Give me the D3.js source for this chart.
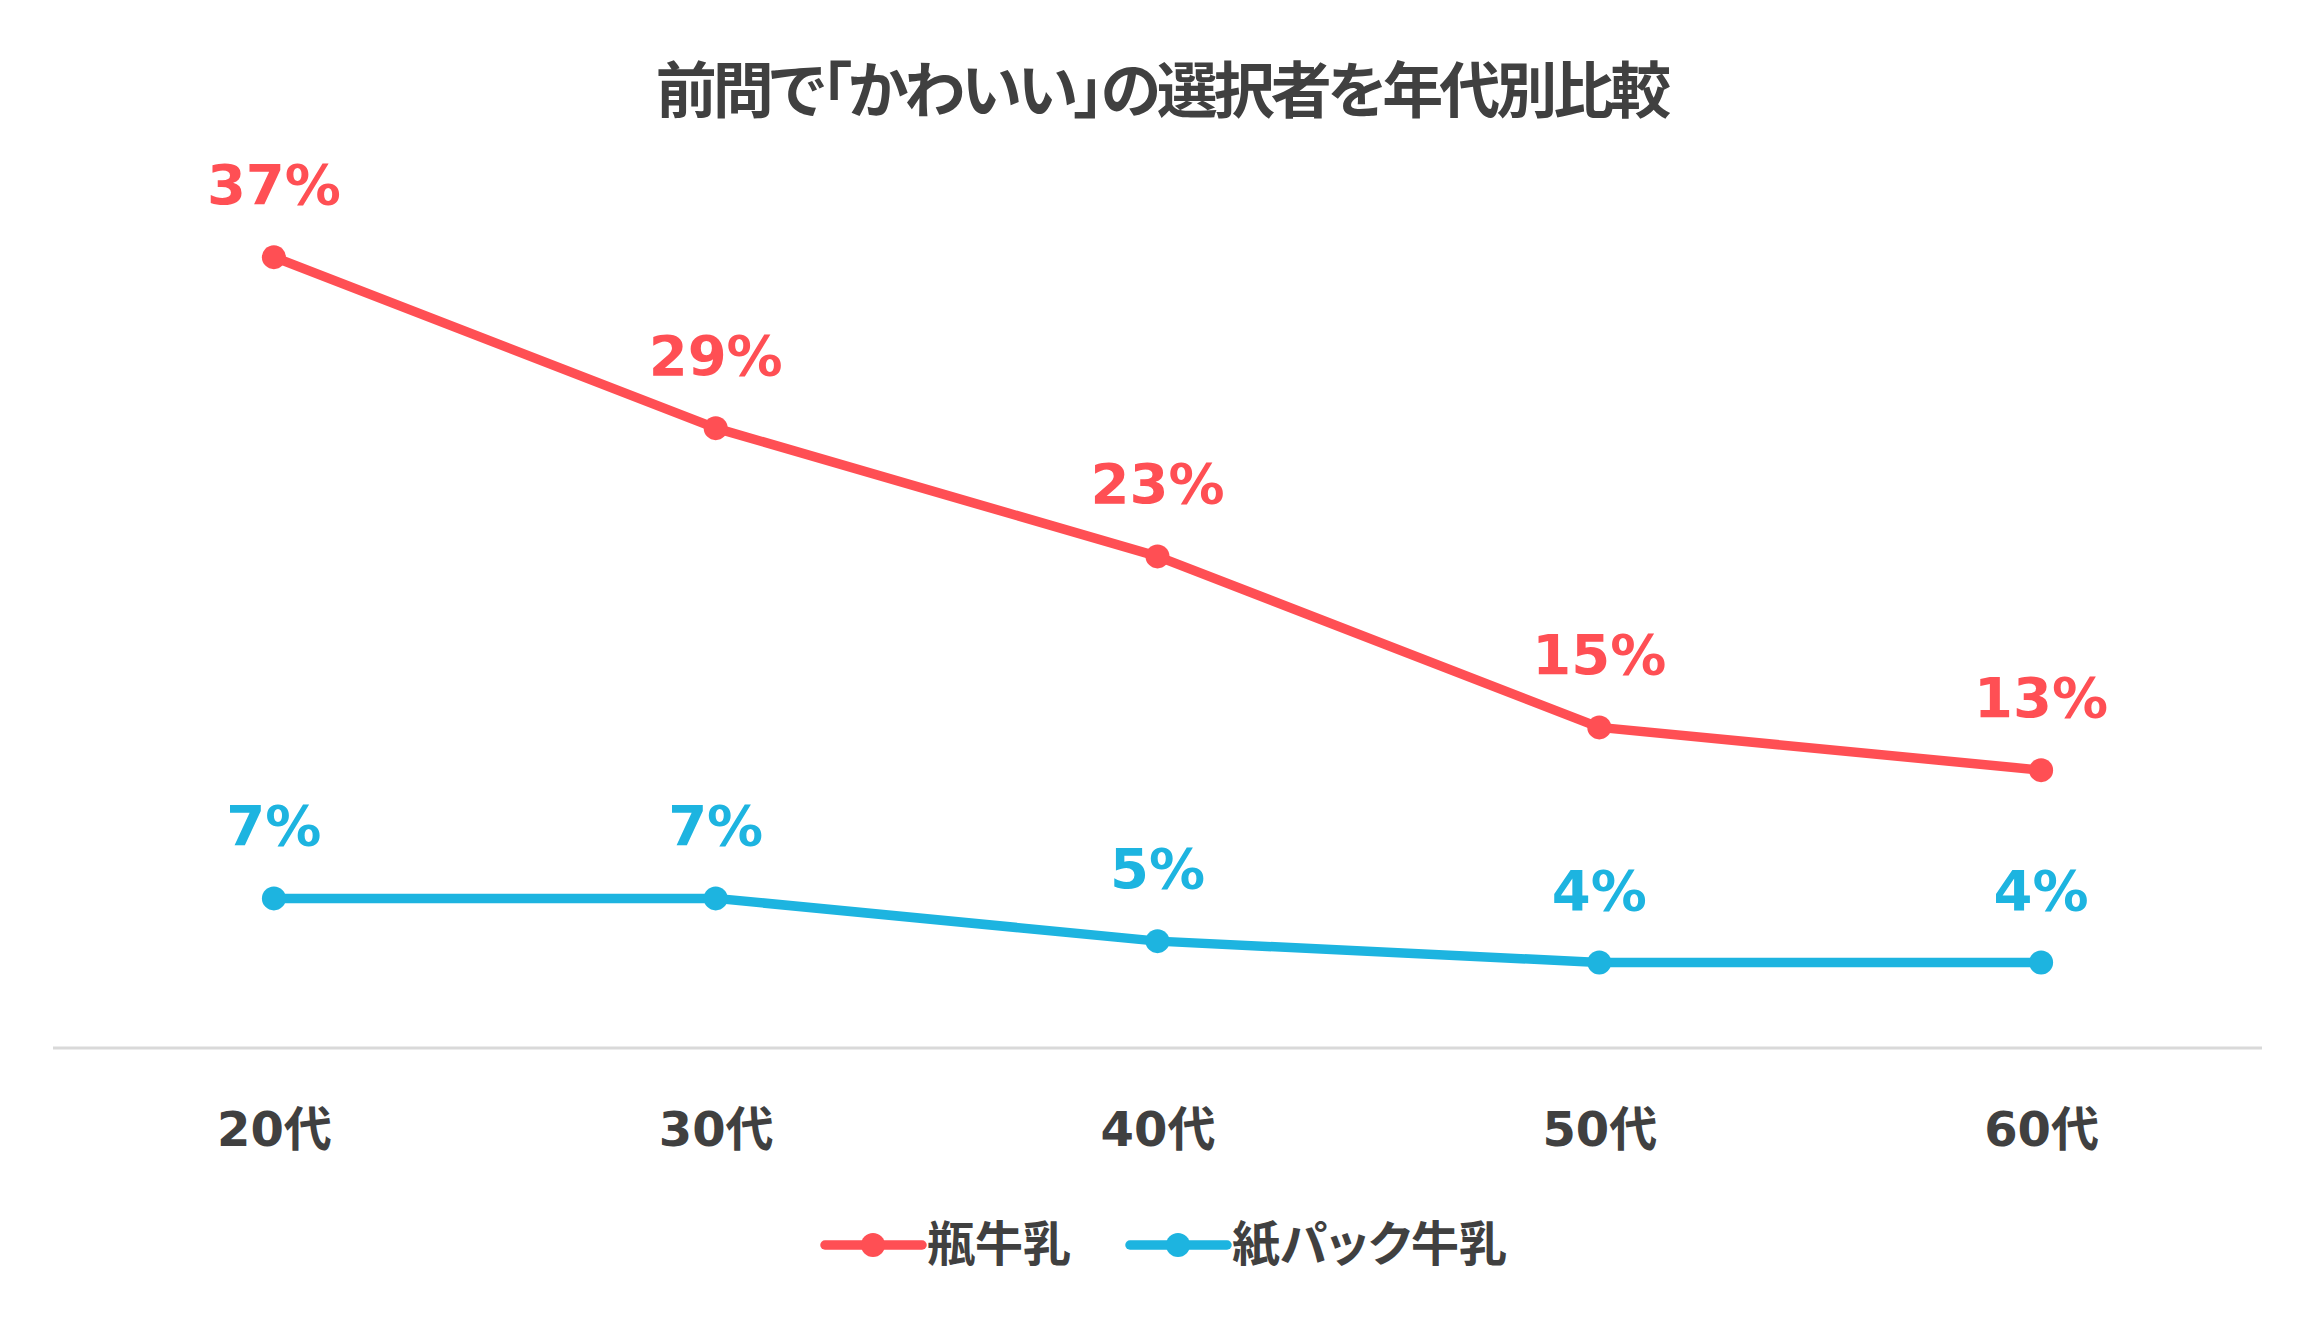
<!DOCTYPE html>
<html>
<head>
<meta charset="utf-8">
<script src="https://cdn.jsdelivr.net/npm/d3@7"></script>
<style>
  html, body { margin: 0; padding: 0; background: #fff; }
  #vis text { font-family: "DejaVu Sans", "Noto Sans CJK JP", sans-serif; font-weight: bold; }
  #vis text.jp { font-family: "Noto Sans CJK JP", sans-serif; font-feature-settings: "palt"; }
</style>
</head>
<body>
<div id="vis"></div>
<script>
// chart data
var title = "前問で「かわいい」の選択者を年代別比較";
var ages = ["20代", "30代", "40代", "50代", "60代"];
var seriesNames = ["瓶牛乳", "紙パック牛乳"];
var bottleMilk = [37, 29, 23, 15, 13];
var paperPackMilk = [7, 7, 5, 4, 4];
var yMax = 40;

var colors = ["#ff4f54", "#1db4e0"];

var width = 2319, height = 1320;
var margin = {top: 193, right: 57, bottom: 272, left: 53};

var svg = d3.select("#vis").append("svg")
    .attr("width", width)
    .attr("height", height);

var x = d3.scalePoint()
    .domain(ages)
    .range([margin.left, width - margin.right])
    .padding(0.5);

var y = d3.scaleLinear()
    .domain([0, yMax])
    .range([height - margin.bottom, margin.top]);

// title
svg.append("text")
    .attr("class", "jp")
    .attr("x", width / 2 + 2)
    .attr("y", 113)
    .attr("text-anchor", "middle")
    .attr("fill", "#404040")
    .style("font-size", "61px")
    .style("letter-spacing", "-4px")
    .text(title);

// x axis
var xAxis = svg.append("g")
    .attr("transform", `translate(0,${y(0)})`)
    .call(d3.axisBottom(x).tickSize(0).tickPadding(64).tickSizeOuter(0));

xAxis.select(".domain")
    .attr("stroke", "#d9d9d9")
    .attr("stroke-width", 3)
    .attr("d", `M${margin.left},0H${width - margin.right}`);

xAxis.selectAll(".tick text")
    .attr("fill", "#404040")
    .style("font-size", "48px");

var series = [
  {name: seriesNames[0], values: bottleMilk, color: colors[0]},
  {name: seriesNames[1], values: paperPackMilk, color: colors[1]}
];

var line = d3.line()
    .x((d, i) => x(ages[i]))
    .y(d => y(d));

var g = svg.selectAll(".series")
    .data(series)
    .join("g")
    .attr("class", "series");

g.append("path")
    .attr("fill", "none")
    .attr("stroke", d => d.color)
    .attr("stroke-width", 9.5)
    .attr("stroke-linejoin", "round")
    .attr("d", d => line(d.values));

g.selectAll("circle")
    .data(d => d.values.map(v => ({v: v, color: d.color})))
    .join("circle")
    .attr("cx", (d, i) => x(ages[i]))
    .attr("cy", d => y(d.v))
    .attr("r", 12)
    .attr("fill", d => d.color);

g.selectAll(".lbl")
    .data(d => d.values.map(v => ({v: v, color: d.color})))
    .join("text")
    .attr("class", "lbl")
    .attr("x", (d, i) => x(ages[i]))
    .attr("y", d => y(d.v) - 53)
    .attr("text-anchor", "middle")
    .attr("fill", d => d.color)
    .style("font-size", "56px")
    .text(d => d.v + "%");

// legend
var legendX = [825, 1130];
var legend = svg.append("g")
    .selectAll("g")
    .data(series)
    .join("g")
    .attr("transform", (d, i) => `translate(${legendX[i]},1245)`);

legend.append("line")
    .attr("x1", 0)
    .attr("x2", 97)
    .attr("stroke", d => d.color)
    .attr("stroke-width", 9.5)
    .attr("stroke-linecap", "round");

legend.append("circle")
    .attr("cx", 48)
    .attr("r", 12)
    .attr("fill", d => d.color);

legend.append("text")
    .attr("class", "jp")
    .attr("x", 102)
    .attr("y", 16)
    .attr("fill", "#404040")
    .style("font-size", "48px")
    .text(d => d.name);
</script>
</body>
</html>
